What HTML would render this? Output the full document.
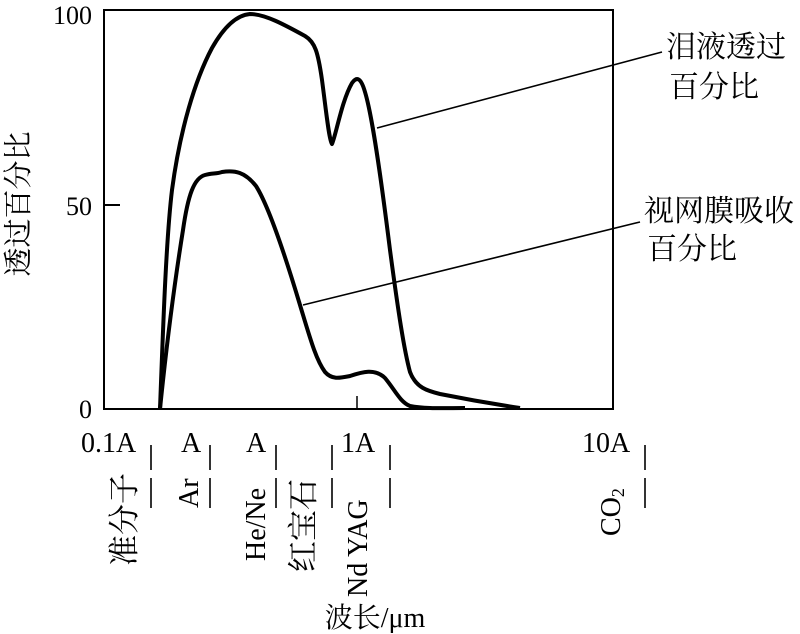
<!DOCTYPE html>
<html><head><meta charset="utf-8"><style>
html,body{margin:0;padding:0;background:#fff;}
svg{display:block;}
text{font-family:"Liberation Serif","Noto Serif CJK SC","Noto Sans CJK SC",serif;fill:#000;}
</style></head><body>
<svg width="800" height="634" viewBox="0 0 800 634" xmlns="http://www.w3.org/2000/svg">
<rect x="104" y="10" width="509" height="399" fill="none" stroke="#000" stroke-width="2"/>
<line x1="104" y1="205" x2="120" y2="205" stroke="#000" stroke-width="2"/>
<line x1="357" y1="396" x2="357" y2="409" stroke="#000" stroke-width="1.5"/>
<g font-size="26" text-anchor="end">
<text x="92" y="24">100</text>
<text x="92" y="215">50</text>
<text x="92" y="418">0</text>
</g>
<text transform="translate(28,204) rotate(-90)" font-size="29" text-anchor="middle">透过百分比</text>
<path d="M160,409 C163,330 166,240 172,190 C180,130 195,80 212,48 C225,25 238,15 250,14 C265,14 285,25 305,36 C315,42 318,52 322,80 C326,110 329,140 332,144 C336,135 342,100 352,83 C357,76 361,78 365,92 C372,115 380,170 390,250 C398,310 404,350 410,372 C416,388 428,391 440,394 C470,400 500,405 520,408" fill="none" stroke="#000" stroke-width="4" stroke-linejoin="round"/>
<path d="M160,409 C166,350 175,280 183,230 C188,195 194,178 205,175 C212,173 216,174 222,172 C235,170 245,172 256,186 C268,205 285,255 300,305 C310,338 316,360 325,372 C332,380 340,378 350,376 C362,372 375,368 385,378 C395,390 400,402 410,406 C425,409 445,408 465,408" fill="none" stroke="#000" stroke-width="4" stroke-linejoin="round"/>
<line x1="377" y1="128" x2="662" y2="52" stroke="#000" stroke-width="1.6"/>
<line x1="303" y1="305" x2="640" y2="222" stroke="#000" stroke-width="1.6"/>
<g font-size="30">
<text x="666" y="57">泪液透过</text>
<text x="669" y="97">百分比</text>
<text x="644" y="221">视网膜吸收</text>
<text x="647" y="259">百分比</text>
</g>
<g font-size="28">
<text x="81" y="452">0.1A</text>
<text x="181" y="452">A</text>
<text x="246" y="452">A</text>
<text x="341" y="452">1A</text>
<text x="582" y="452">10A</text>
</g>
<g stroke="#000" stroke-width="1.6">
<line x1="151" y1="445" x2="151" y2="470"/><line x1="151" y1="478" x2="151" y2="508"/>
<line x1="210" y1="445" x2="210" y2="470"/><line x1="210" y1="478" x2="210" y2="508"/>
<line x1="276" y1="445" x2="276" y2="470"/><line x1="276" y1="478" x2="276" y2="508"/>
<line x1="332" y1="445" x2="332" y2="470"/><line x1="332" y1="478" x2="332" y2="508"/>
<line x1="390" y1="445" x2="390" y2="470"/><line x1="390" y1="478" x2="390" y2="508"/>
<line x1="645" y1="445" x2="645" y2="470"/><line x1="645" y1="478" x2="645" y2="508"/>
</g>
<g font-size="28">
<text transform="translate(135,566) rotate(-90)" font-size="31">准分子</text>
<text transform="translate(198,508) rotate(-90)">Ar</text>
<text transform="translate(265,561) rotate(-90)">He/Ne</text>
<text transform="translate(314,572) rotate(-90)" font-size="31">红宝石</text>
<text transform="translate(367,597) rotate(-90)">Nd YAG</text>
<text transform="translate(620,536) rotate(-90)">CO<tspan font-size="18" dy="4">2</tspan></text>
</g>
<text x="375" y="627" font-size="28" text-anchor="middle">波长/μm</text>
</svg>
</body></html>
